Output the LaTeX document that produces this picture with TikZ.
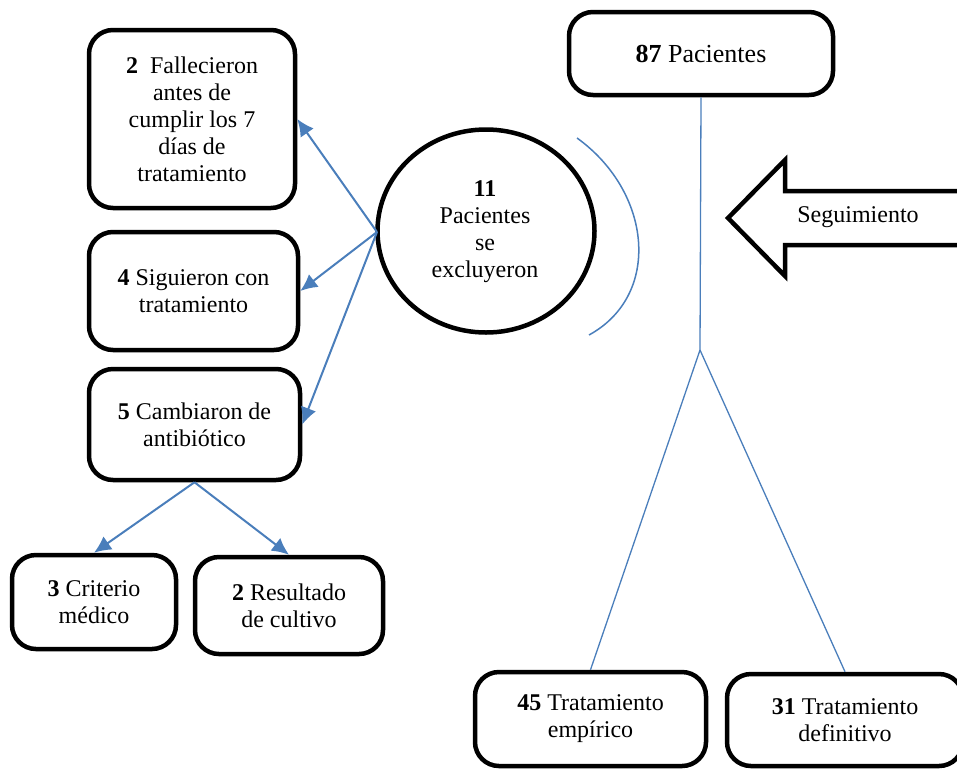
\documentclass[tikz,border=0pt]{standalone}
\usepackage{fontspec}
\setmainfont{Liberation Serif}
\usetikzlibrary{arrows.meta, shapes.geometric}
\definecolor{azul}{HTML}{4A7EBB}

\begin{document}
\begin{tikzpicture}[x=1pt,y=-1pt,
	every node/.style={font=\fontsize{24}{27}\selectfont},
	caja/.style={draw, line width=4.5pt, rounded corners=24pt, align=center, inner sep=0pt},
	flecha/.style={draw=azul, line width=2pt, -{Latex[length=17pt,width=16pt]}},
	linea/.style={draw=azul, line width=1.3pt}]
		
		\useasboundingbox (0,0) rectangle (957,769);
		\clip (0,0) rectangle (957,769);
		
		% cajas de la izquierda
		\node[caja, minimum width=206, minimum height=178] (fall) at (192,119) {\textbf{2}\ \ Fallecieron\\antes de\\cumplir los 7\\días de\\tratamiento};
		\node[caja, minimum width=209, minimum height=118] (sig) at (193.5,291) {\textbf{4} Siguieron con\\tratamiento};
		\node[caja, minimum width=211, minimum height=111] (camb) at (194.5,424.5) {\textbf{5} Cambiaron de\\antibiótico};
		\node[caja, minimum width=164, minimum height=94] (crit) at (94,602) {\textbf{3} Criterio\\médico};
		\node[caja, minimum width=188, minimum height=97] (res) at (289,605.5) {\textbf{2} Resultado\\de cultivo};
		
		% excluidos
		\node[ellipse, draw, line width=4.5pt, minimum width=217, minimum height=203] (circ) at (486,231) {};
		\node[align=center] (exc) at (485,232) {\textbf{11}\\Pacientes\\se\\excluyeron};
		\coordinate (fan) at (377,232);
		\draw[flecha] (fan) -- (fall.east);
		\draw[flecha] (fan) -- (sig.east);
		\draw[flecha] (fan) -- (camb.east);
		\draw[flecha] (camb.south) -- (crit.north);
		\draw[flecha] (camb.south) -- (res.north);
		\draw[azul, line width=1.5pt] (577,138) .. controls (652,192) and (662,295) .. (589,335);
		
		% lado derecho
		\node[caja, font=\fontsize{26}{29}\selectfont, minimum width=264, minimum height=83] (pac) at (701,53.5) {\textbf{87} Pacientes};
		\node[caja, minimum width=231, minimum height=94] (emp) at (590.5,719) {\textbf{45} Tratamiento\\empírico};
		\node[caja, minimum width=236, minimum height=92] (def) at (845,720) {\textbf{31} Tratamiento\\definitivo};
		\coordinate (rama) at (700,350);
		\draw[linea] (pac.south) -- (rama);
		\draw[linea] (rama) -- (emp.north);
		\draw[linea] (rama) -- (def.north);
		
		\draw[line width=4.5pt, line join=miter] (965,191) -- (785,191) -- (785,160) -- (728,218) -- (785,276) -- (785,245) -- (965,245);
		\node (seg) at (858,217) {Seguimiento};
		
\end{tikzpicture}
\end{document}
